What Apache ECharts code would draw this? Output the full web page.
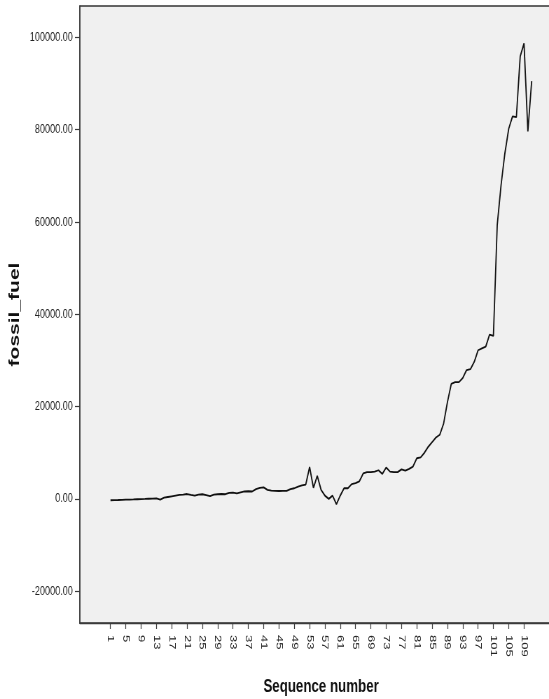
<!DOCTYPE html>
<html>
<head>
<meta charset="utf-8">
<title>fossil_fuel sequence chart</title>
<script src="https://cdn.jsdelivr.net/npm/echarts@6/dist/echarts.min.js"></script>
<style>
  html, body { margin: 0; padding: 0; background: #ffffff; overflow: hidden; }
  #frame { width: 549px; height: 699px; overflow: hidden; position: relative; }
  /* the chart is laid out wide and compressed horizontally into the frame */
  #chart { width: 784px; height: 699px; transform: scaleX(0.70026); transform-origin: 0 0; }
</style>
</head>
<body>
<div id="frame"><div id="chart"></div></div>
<script>
// Sequence numbers (cases)
const sequenceNumbers = [
  1, 2, 3, 4, 5, 6, 7, 8, 9, 10, 11, 12, 13, 14, 15, 16, 17, 18, 19, 20,
  21, 22, 23, 24, 25, 26, 27, 28, 29, 30, 31, 32, 33, 34, 35, 36, 37, 38, 39, 40,
  41, 42, 43, 44, 45, 46, 47, 48, 49, 50, 51, 52, 53, 54, 55, 56, 57, 58, 59, 60,
  61, 62, 63, 64, 65, 66, 67, 68, 69, 70, 71, 72, 73, 74, 75, 76, 77, 78, 79, 80,
  81, 82, 83, 84, 85, 86, 87, 88, 89, 90, 91, 92, 93, 94, 95, 96, 97, 98, 99, 100,
  101, 102, 103, 104, 105, 106, 107, 108, 109, 110, 111
];

// fossil_fuel value for each sequence number
const fossilFuel = [
  -300, -270, -250, -220, -180, -150, -120, -80, -50, -20,
  20, 60, 100, -150, 250, 400, 550, 700, 850, 900,
  1050, 850, 700, 900, 1000, 800, 600, 900, 1000, 1050,
  1000, 1300, 1350, 1200, 1400, 1600, 1650, 1600, 2100, 2400,
  2500, 1950, 1800, 1750, 1700, 1750, 1750, 2100, 2300, 2650,
  2900, 3100, 6900, 2400, 5000, 1950, 700, 0, 700, -1150,
  700, 2300, 2300, 3200, 3400, 3800, 5500, 5800, 5800, 5900,
  6200, 5400, 6800, 5900, 5800, 5800, 6400, 6100, 6500, 7000,
  8800, 9000, 10000, 11300, 12300, 13300, 13900, 16300, 21000, 24900,
  25300, 25300, 26200, 27900, 28100, 29700, 32200, 32600, 33000, 35600,
  35300, 59300, 68000, 74900, 80200, 82900, 82700, 95900, 98700, 79600,
  90500
];

// Labelled ticks on each axis
const xTickValues = [1, 5, 9, 13, 17, 21, 25, 29, 33, 37, 41, 45, 49, 53, 57, 61, 65, 69, 73, 77, 81, 85, 89, 93, 97, 101, 105, 109];
const yTickValues = [-20000, 0, 20000, 40000, 60000, 80000, 100000];

const points = sequenceNumbers.map((s, i) => [s, fossilFuel[i]]);

const chart = echarts.init(document.getElementById('chart'), null, { renderer: 'canvas' });

chart.setOption({
  animation: false,
  backgroundColor: '#ffffff',
  grid: {
    show: true,
    left: 114,
    right: -19,
    top: 6,
    bottom: 76,
    outerBoundsMode: 'none',
    containLabel: false,
    backgroundColor: '#f0f0f0',
    borderColor: '#333333',
    borderWidth: 1.3
  },
  xAxis: {
    type: 'value',
    min: -7,
    max: 119,
    name: 'Sequence number',
    nameLocation: 'middle',
    nameGap: 54,
    nameTextStyle: {
      fontFamily: 'Liberation Sans, Arial, sans-serif',
      fontSize: 19,
      fontWeight: 'bold',
      color: '#111111'
    },
    axisLine: { show: true, onZero: false, lineStyle: { color: '#3a3a3a', width: 1.4 } },
    axisTick: {
      show: true,
      length: 6,
      customValues: xTickValues,
      lineStyle: { color: '#3a3a3a', width: 1.2 }
    },
    axisLabel: {
      show: true,
      customValues: xTickValues,
      rotate: -90,
      margin: 12,
      padding: [10, 0, 0, 0],
      fontFamily: 'Liberation Sans, Arial, sans-serif',
      fontSize: 13,
      color: '#222222'
    },
    splitLine: { show: false }
  },
  yAxis: {
    type: 'value',
    min: -26900,
    max: 106800,
    name: 'fossil_fuel',
    nameLocation: 'middle',
    nameGap: 77,
    nameTextStyle: {
      fontFamily: 'Liberation Sans, Arial, sans-serif',
      fontSize: 21,
      fontWeight: 'bold',
      color: '#111111'
    },
    axisLine: { show: true, onZero: false, lineStyle: { color: '#3a3a3a', width: 1.6 } },
    axisTick: {
      show: true,
      length: 7,
      customValues: yTickValues,
      lineStyle: { color: '#3a3a3a', width: 1.2 }
    },
    axisLabel: {
      show: true,
      customValues: yTickValues,
      margin: 10,
      formatter: (v) => Number(v).toFixed(2),
      fontFamily: 'Liberation Sans, Arial, sans-serif',
      fontSize: 13,
      color: '#222222'
    },
    splitLine: { show: false }
  },
  series: [{
    type: 'line',
    data: points,
    showSymbol: false,
    symbol: 'none',
    lineStyle: { color: '#111111', width: 1.8 },
    clip: true
  }]
});
</script>
</body>
</html>
